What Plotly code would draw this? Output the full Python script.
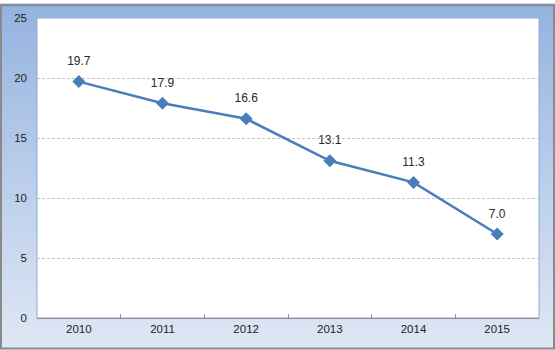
import plotly.graph_objects as go

years = ["2010", "2011", "2012", "2013", "2014", "2015"]
values = [19.7, 17.9, 16.6, 13.1, 11.3, 7.0]
labels = ["19.7", "17.9", "16.6", "13.1", "11.3", "7.0"]

W, H = 555, 350
ml, mr, mt, mb = 37, 16, 14, 32
pw, ph = W - ml - mr, H - mt - mb

fig = go.Figure()
fig.add_trace(go.Scatter(
    x=years, y=values, mode="lines+markers",
    line=dict(color="#4a7ebb", width=2.5),
    marker=dict(symbol="diamond", size=10, color="#4a7ebb"),
    cliponaxis=False, hoverinfo="skip",
))
# labels: transparent enlarged markers push text further above the points
fig.add_trace(go.Scatter(
    x=years, y=values, mode="markers+text",
    text=labels, textposition="top center",
    textfont=dict(family="Liberation Sans, Arial", size=12, color="#2a2a2a"),
    marker=dict(size=20, color="rgba(0,0,0,0)"),
    cliponaxis=False,
))

# gradient background via strips
x0p, x1p = -ml / pw, 1 + mr / pw
y0p, y1p = -mb / ph, 1 + mt / ph
top = (149, 179, 224)
bot = (222, 231, 244)
n = 60
shapes = []
for i in range(n):
    t = i / (n - 1)
    c = tuple(round(top[k] + (bot[k] - top[k]) * t) for k in range(3))
    ya = y1p - (y1p - y0p) * i / n
    yb = y1p - (y1p - y0p) * (i + 1) / n
    shapes.append(dict(type="rect", xref="paper", yref="paper", layer="below",
                       x0=x0p, x1=x1p, y0=yb, y1=ya + 0.002,
                       fillcolor="rgb(%d,%d,%d)" % c, line=dict(width=0)))
shapes.append(dict(type="rect", xref="paper", yref="paper", layer="below",
                   x0=0, x1=1, y0=0, y1=1, fillcolor="white",
                   line=dict(color="#8eaad6", width=1)))
shapes.append(dict(type="rect", xref="paper", yref="paper", layer="above",
                   x0=x0p + 1 / pw, x1=x1p - 1 / pw, y0=y0p + 1 / ph, y1=y1p - 1 / ph,
                   fillcolor="rgba(0,0,0,0)", line=dict(color="#8a8a8a", width=2)))

fig.update_layout(
    width=W, height=H,
    margin=dict(l=ml, r=mr, t=mt, b=mb),
    paper_bgcolor="white", plot_bgcolor="white",
    showlegend=False,
    shapes=shapes,
    font=dict(family="Liberation Sans, Arial", size=11, color="#333333"),
    xaxis=dict(type="category", tickson="boundaries", ticks="inside", ticklen=4,
               tickcolor="#999999", showgrid=False, showline=True, linecolor="#8c8c8c",
               linewidth=1, range=[-0.5, 5.5], tickfont=dict(size=11.5, color="#222222")),
    yaxis=dict(range=[0, 25], dtick=5, showgrid=True, gridcolor="#c4c4c4",
               griddash="3px,2px", gridwidth=1, zeroline=False, showline=False,
               ticks="", tickfont=dict(size=11.5, color="#222222"), ticklabelstandoff=9),
)

fig.write_html("out.html")
